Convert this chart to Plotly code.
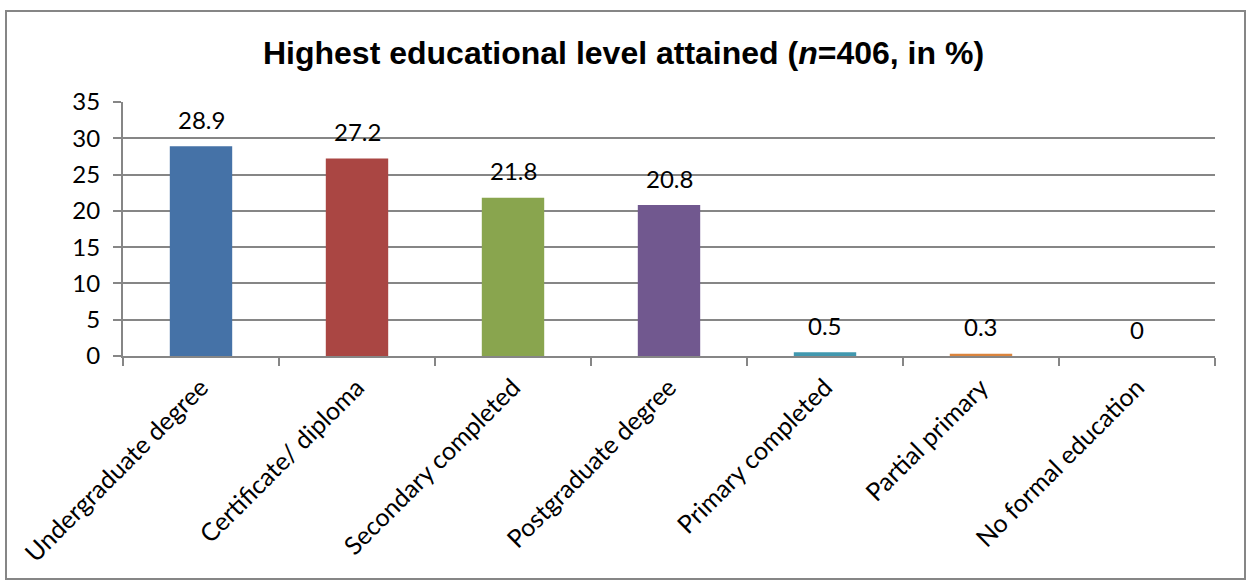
import plotly.graph_objects as go

categories = ["Undergraduate degree", "Certificate/ diploma", "Secondary completed",
              "Postgraduate degree", "Primary completed", "Partial primary", "No formal education"]
values = [28.9, 27.2, 21.8, 20.8, 0.5, 0.3, 0]
labels = ["28.9", "27.2", "21.8", "20.8", "0.5", "0.3", "0"]
colors = ["#4572A7", "#AA4643", "#89A54E", "#71588F", "#4198AF", "#DB843D", "#4572A7"]
y_ticks = [0, 5, 10, 15, 20, 25, 30, 35]

W, H = 1247, 581
L, R, T, B = 123, 32, 102, 225
pw, ph = W - L - R, H - T - B
FS = 24

fig = go.Figure()
fig.add_trace(go.Bar(x=categories, y=values, marker=dict(color=colors, line=dict(width=0)),
                     width=0.4, hoverinfo="x+y"))

for c, v, t in zip(categories, values, labels):
    fig.add_annotation(x=c, y=v, text=t, showarrow=False, yanchor="middle", yshift=27,
                       font=dict(family="Lato", size=FS, color="#000000"))

def px_to_paper_x(px):
    return (px - L) / pw

def px_to_paper_y(py):
    return (H - B - py) / ph

fig.add_shape(type="rect", xref="paper", yref="paper",
              x0=px_to_paper_x(6), x1=px_to_paper_x(1245),
              y0=px_to_paper_y(579), y1=px_to_paper_y(11),
              line=dict(color="#868686", width=2), fillcolor="rgba(0,0,0,0)", layer="below")

fig.update_layout(
    width=W, height=H,
    margin=dict(l=L, r=R, t=T, b=B),
    paper_bgcolor="white", plot_bgcolor="white",
    showlegend=False,
    bargap=0.6,
    title=dict(text="<b>Highest educational level attained (<i>n</i>=406, in %)</b>",
               x=0.5, xref="container", xanchor="center",
               y=1 - 53 / H, yref="container", yanchor="middle",
               font=dict(family="Liberation Sans, Arial, sans-serif", size=32, color="#000000")),
    font=dict(family="Lato", size=FS, color="#000000"),
)
fig.update_xaxes(type="category", tickangle=-45, showline=True, linecolor="#868686", linewidth=2,
                 ticks="outside", tickson="boundaries", ticklen=8, tickcolor="#868686", tickwidth=2,
                 ticklabelstandoff=5,
                 showgrid=False, tickfont=dict(family="Lato", size=25, color="#000000"))
fig.update_yaxes(range=[0, 35], tickvals=y_ticks, showline=True, linecolor="#868686", linewidth=2,
                 ticks="outside", ticklen=8, tickcolor="#868686", tickwidth=2,
                 ticklabelstandoff=8,
                 showgrid=True, gridcolor="#868686", gridwidth=1.5, zeroline=False,
                 tickfont=dict(family="Lato", size=FS, color="#000000"))

fig.write_html("out.html", config={"displayModeBar": False},
               post_script="document.body.style.margin='0px';document.body.style.padding='0px';")
